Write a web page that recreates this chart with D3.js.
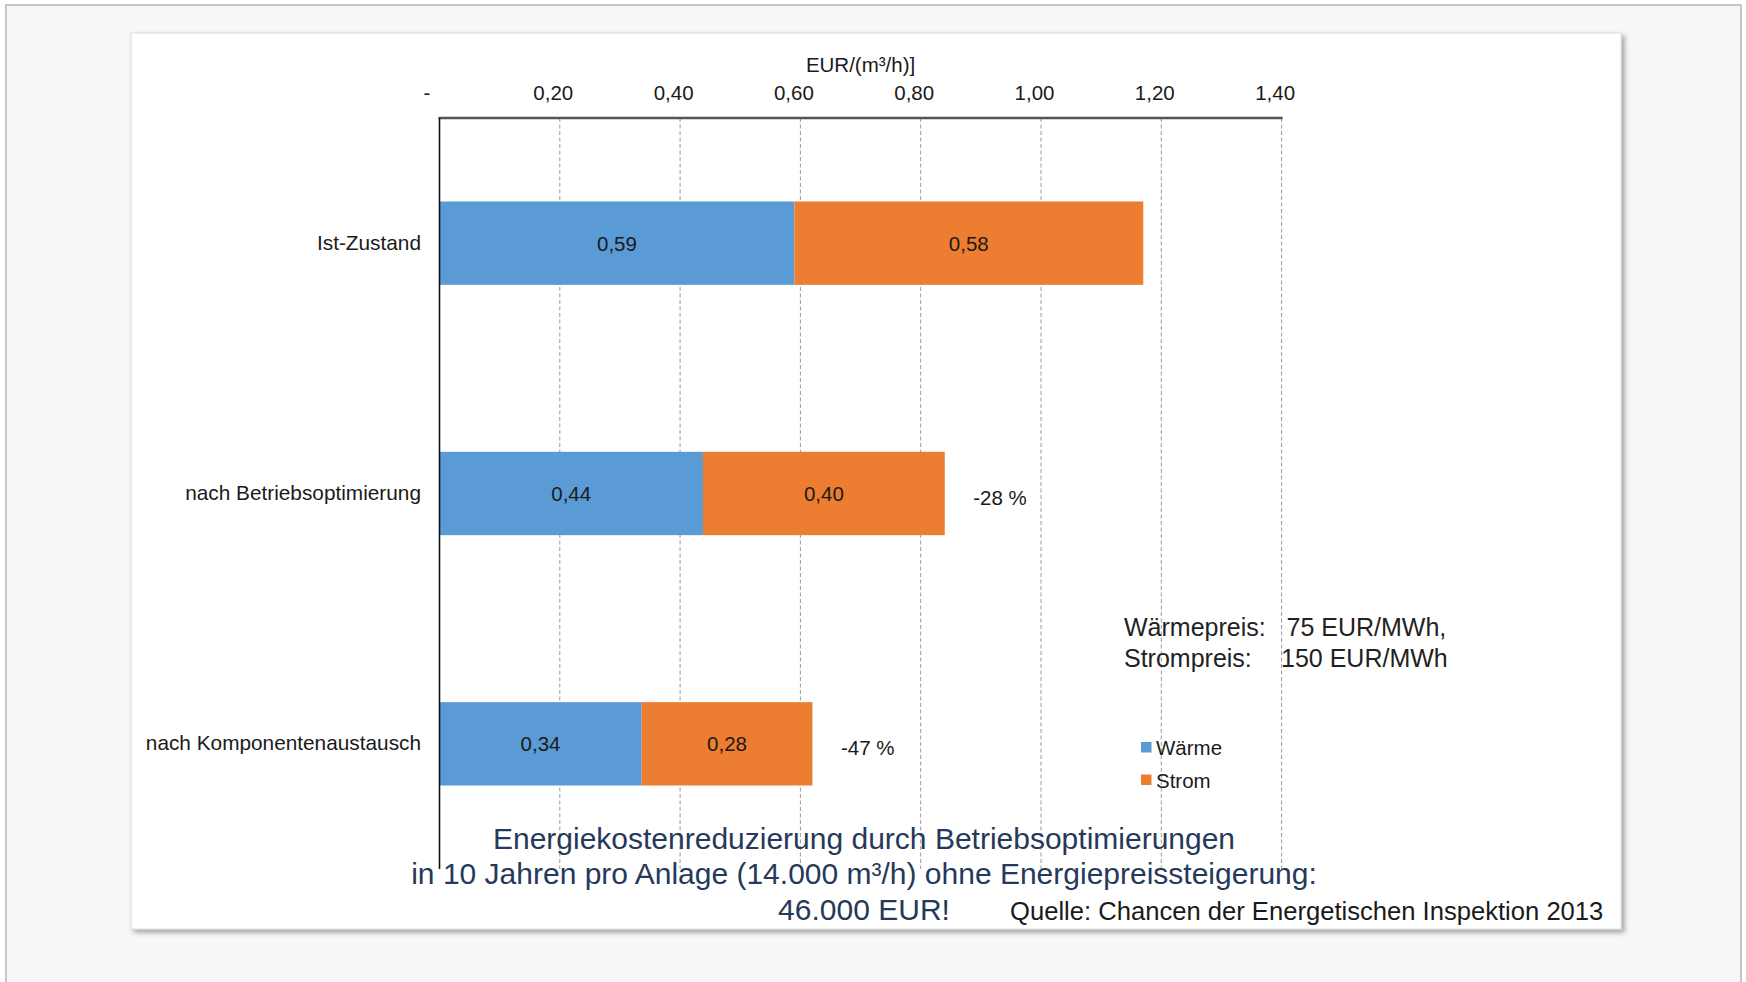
<!DOCTYPE html>
<html>
<head>
<meta charset="utf-8">
<script src="https://cdn.jsdelivr.net/npm/d3@7"></script>
<style>
  html, body { margin: 0; padding: 0; background: #ffffff; }
  svg { display: block; }
  text { font-family: "Liberation Sans", Arial, sans-serif; }
</style>
</head>
<body>
<svg id="chart" width="1746" height="982"></svg>
<script>
// ---- data ----
const categories = ["Ist-Zustand", "nach Betriebsoptimierung", "nach Komponentenaustausch"];
const waerme = [0.59, 0.438, 0.336];
const strom  = [0.58, 0.402, 0.284];
const reductions = ["", "-28 %", "-47 %"];
const seriesNames = ["Wärme", "Strom"];
const tickValues = [0, 0.2, 0.4, 0.6, 0.8, 1.0, 1.2, 1.4];
const axisTitle = "EUR/(m³/h)]";
const titleLines = [
  "Energiekostenreduzierung durch Betriebsoptimierungen",
  "in 10 Jahren pro Anlage (14.000 m³/h) ohne Energiepreissteigerung:",
  "46.000 EUR!"
];
const sourceText = "Quelle: Chancen der Energetischen Inspektion 2013";
const priceLabels = ["Wärmepreis:", "Strompreis:"];
const priceValues = ["75 EUR/MWh,", "150 EUR/MWh"];

// ---- setup ----
const colors = ["#5B9BD5", "#ED7D31"];
const svg = d3.select("#chart");
const de = d3.formatLocale({decimal: ",", thousands: ".", grouping: [3], currency: ["", " €"]});
const fmt = de.format(".2f");

// page background and outer frame
svg.append("rect").attr("x", 0).attr("y", 0).attr("width", 1746).attr("height", 982).attr("fill", "#ffffff");
svg.append("rect").attr("x", 6).attr("y", 5).attr("width", 1735).attr("height", 990)
  .attr("fill", "#f7f7f7").attr("stroke", "#c6c6c6").attr("stroke-width", 2);

// panel with shadow
const defs = svg.append("defs");
const f = defs.append("filter").attr("id", "shadow").attr("x", "-5%").attr("y", "-5%").attr("width", "110%").attr("height", "110%");
f.append("feDropShadow").attr("dx", 3).attr("dy", 3).attr("stdDeviation", 2.5).attr("flood-color", "#000").attr("flood-opacity", 0.35);
svg.append("rect").attr("x", 131).attr("y", 33).attr("width", 1490).attr("height", 896)
  .attr("fill", "#ffffff").attr("stroke", "#dcdcdc").attr("stroke-width", 1).attr("filter", "url(#shadow)");

// ---- scales ----
const plot = {left: 439.5, right: 1281.6, top: 118, bottom: 869};
const x = d3.scaleLinear().domain([0, 1.4]).range([plot.left, plot.right]);
const y = d3.scaleBand().domain(categories).range([plot.top, plot.bottom]).paddingInner(0.667).paddingOuter(0.3335);

// gridlines
svg.append("g").selectAll("line").data(tickValues.filter(d => d > 0)).join("line")
  .attr("x1", d => x(d)).attr("x2", d => x(d))
  .attr("y1", plot.top).attr("y2", plot.bottom)
  .attr("stroke", "#9a9a9a").attr("stroke-width", 1).attr("stroke-dasharray", "4,2.5");

// top value axis
const xAxis = d3.axisTop(x).tickValues(tickValues).tickSize(0).tickPadding(18.5)
  .tickFormat(d => d === 0 ? "-" : fmt(d));
const gx = svg.append("g").attr("transform", `translate(0,${plot.top})`).call(xAxis);
gx.select(".domain").remove();
gx.selectAll("text").attr("font-size", 20.5).attr("fill", "#1a1a1a")
  .attr("font-family", "'Liberation Sans', Arial, sans-serif")
  .attr("dx", d => d === 0 ? -13 : -7);
svg.append("line").attr("x1", plot.left - 1).attr("x2", plot.right + 1).attr("y1", plot.top).attr("y2", plot.top)
  .attr("stroke", "#555555").attr("stroke-width", 2.5);

svg.append("text").attr("x", (plot.left + plot.right) / 2).attr("y", 72).attr("text-anchor", "middle")
  .attr("font-size", 20.5).attr("fill", "#1a1a1a").text(axisTitle);

// ---- bars ----
const rows = categories.map((c, i) => ({cat: c, vals: [waerme[i], strom[i]], red: reductions[i]}));
const stacked = rows.flatMap(r => {
  let acc = 0;
  return r.vals.map((v, j) => { const s = {cat: r.cat, j, x0: acc, x1: acc + v, v}; acc += v; return s; });
});
svg.append("g").selectAll("rect").data(stacked).join("rect")
  .attr("x", d => x(d.x0)).attr("width", d => x(d.x1) - x(d.x0))
  .attr("y", d => y(d.cat)).attr("height", y.bandwidth())
  .attr("fill", d => colors[d.j]);

svg.append("g").selectAll("text").data(stacked).join("text")
  .attr("x", d => (x(d.x0) + x(d.x1)) / 2).attr("y", d => y(d.cat) + y.bandwidth() / 2)
  .attr("dy", "0.37em").attr("text-anchor", "middle").attr("font-size", 20.5).attr("fill", "#1a1a1a")
  .text(d => fmt(d.v));

// reduction labels
svg.append("g").selectAll("text").data(rows.filter(r => r.red)).join("text")
  .attr("x", r => x(d3.sum(r.vals)) + 28.5).attr("y", r => y(r.cat) + y.bandwidth() / 2 + 11)
  .attr("font-size", 20.5).attr("fill", "#1a1a1a").text(r => r.red);

// left category axis
const yAxis = d3.axisLeft(y).tickSize(0).tickPadding(18.5);
const gy = svg.append("g").attr("transform", `translate(${plot.left},0)`).call(yAxis);
gy.select(".domain").remove();
gy.selectAll("text").attr("font-size", 20.8).attr("fill", "#1a1a1a")
  .attr("font-family", "'Liberation Sans', Arial, sans-serif");
svg.append("line").attr("x1", plot.left).attr("x2", plot.left).attr("y1", plot.top).attr("y2", plot.bottom)
  .attr("stroke", "#111111").attr("stroke-width", 1.6);

// ---- legend ----
const lg = svg.append("g").attr("transform", "translate(1141,742)");
seriesNames.forEach((n, i) => {
  lg.append("rect").attr("x", 0).attr("y", i * 32.5).attr("width", 10.5).attr("height", 10.5).attr("fill", colors[i]);
  lg.append("text").attr("x", 15).attr("y", i * 32.5 + 13).attr("font-size", 20.5).attr("fill", "#1a1a1a").text(n);
});

// ---- price note ----
priceLabels.forEach((t, i) => {
  svg.append("text").attr("x", 1124).attr("y", 636 + i * 30.5).attr("font-size", 25).attr("fill", "#222222").text(t);
});
priceValues.forEach((t, i) => {
  svg.append("text").attr("x", i === 0 ? 1286.5 : 1281).attr("y", 636 + i * 30.5).attr("font-size", 25).attr("fill", "#222222").text(t);
});

// ---- title ----
titleLines.forEach((t, i) => {
  svg.append("text").attr("x", 864).attr("y", [849.3, 884.3, 920][i]).attr("text-anchor", "middle")
    .attr("font-size", 30).attr("fill", "#26395a").text(t);
});
svg.append("text").attr("x", 1010).attr("y", 920).attr("font-size", 25.6).attr("fill", "#1a1a1a").text(sourceText);
</script>
</body>
</html>
